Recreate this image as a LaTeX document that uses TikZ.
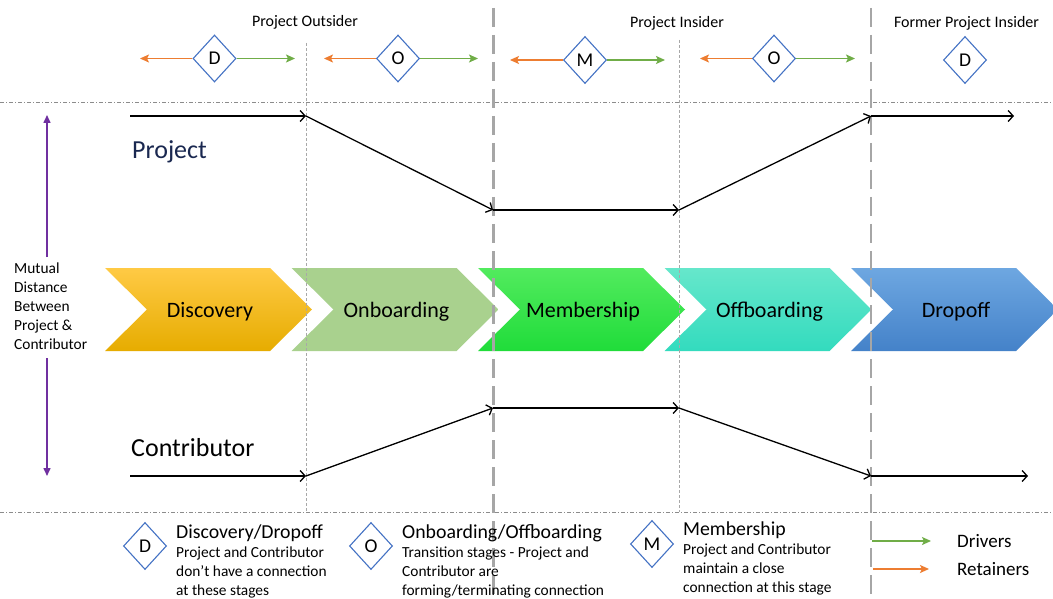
\documentclass[tikz,border=0pt]{standalone}
\usepackage{fontspec}
\setmainfont{Carlito}
\usetikzlibrary{arrows.meta,shapes.geometric}
\definecolor{diablue}{HTML}{4472C4}
\definecolor{retorange}{HTML}{ED7D31}
\definecolor{drvgreen}{HTML}{70AD47}
\definecolor{mpurple}{HTML}{7030A0}
\definecolor{thickgray}{HTML}{A6A6A6}
\definecolor{thingray}{HTML}{A8A8A8}
\definecolor{dashgray}{HTML}{8C8C8C}
\definecolor{projnavy}{HTML}{1A2850}
\definecolor{discT}{HTML}{FFCA45}
\definecolor{discB}{HTML}{E6AC00}
\definecolor{onbC}{HTML}{A9D18E}
\definecolor{memT}{HTML}{52EB5E}
\definecolor{memB}{HTML}{20DC3A}
\definecolor{offT}{HTML}{66E7CB}
\definecolor{offB}{HTML}{33DBBE}
\definecolor{droT}{HTML}{6EA7E1}
\definecolor{droB}{HTML}{4482C9}
\newcommand{\mychev}[6]{%
  \shade[top color=#2,bottom color=#3] (#1,268) -- ++(165,0) -- ++(42,41.5) -- ++(-42,41.5) -- ++(-165,0) -- ++(42,-41.5) -- cycle;
  \node[stagetxt,anchor=base] (#5) at (#1+105,317) {#4};
  \coordinate (#6) at (#1,268);}
\begin{document}
\begin{tikzpicture}[x=1pt,y=-1pt,
  dia/.style={diamond,draw=diablue,fill=white,line width=1.1pt,minimum width=43pt,minimum height=47pt,inner sep=0pt,font=\fontsize{19.5}{19.5}\selectfont},
  drv/.style={draw=drvgreen,line width=1.5pt,-{Stealth[length=9pt,width=8pt,inset=2pt]}},
  ret/.style={draw=retorange,line width=1.5pt,-{Stealth[length=9pt,width=8pt,inset=2pt]}},
  flow/.style={draw=black,line width=1.3pt,-{Straight Barb[length=5pt,width=11pt,line width=1.3pt]}},
  purp/.style={draw=mpurple,line width=1.5pt,-{Triangle[length=8pt,width=7pt]}},
  stagetxt/.style={font=\fontsize{22}{22}\selectfont,inner sep=0pt},
  toplbl/.style={font=\fontsize{16}{16}\selectfont,inner sep=0pt,anchor=base},
  legtitle/.style={font=\fontsize{19.8}{19.8}\selectfont,inner sep=0pt,anchor=base west},
  legsub/.style={font=\fontsize{15.4}{19}\selectfont,inner sep=0pt,anchor=north west,align=left},
  hline/.style={draw=dashgray,line width=0.7pt,dash pattern=on 4pt off 2pt on 1pt off 2pt},
  thinv/.style={draw=thingray,line width=0.9pt,dash pattern=on 3pt off 2pt},
  thickv/.style={draw=thickgray,line width=2.6pt,dash pattern=on 19pt off 8pt}]
\useasboundingbox (0,0) rectangle (1053,599);
\fill[white] (0,0) rectangle (1053,599);

% chevrons
\mychev{105}{discT}{discB}{Discovery}{sDisc}{cDisc}
\mychev{291.5}{onbC}{onbC}{Onboarding}{sOnb}{cOnb}
\mychev{478}{memT}{memB}{Membership}{sMem}{cMem}
\mychev{664.5}{offT}{offB}{Offboarding}{sOff}{cOff}
\mychev{851}{droT}{droB}{Dropoff}{sDro}{cDro}

% horizontal separators
\draw[hline] (0,102) -- (1053,102);
\draw[hline] (0,512) -- (1053,512);

% vertical lines
\draw[thinv] (306.5,43) -- (306.5,512);
\draw[thinv] (679,40) -- (679,512);
\draw[thickv] (493.5,8) -- (493.5,599);
\draw[thickv] (871,8) -- (871,599);

% top labels
\node[toplbl] (lOut) at (305,27) {Project Outsider};
\node[toplbl] (lIns) at (677,27.5) {Project Insider};
\node[toplbl] (lFor) at (966.5,27.5) {Former Project Insider};

% top diamonds with arrows
\node[dia] (d1) at (214.5,58.5) {D};
\node[dia] (o1) at (398,58.5) {O};
\node[dia] (m1) at (585,60) {M};
\node[dia] (o2) at (774,58.5) {O};
\node[dia] (d2) at (965,60) {D};
\coordinate (d1l) at (140,58.5); \coordinate (d1r) at (295,58.5);
\coordinate (o1l) at (324,58.5); \coordinate (o1r) at (478,58.5);
\coordinate (m1l) at (510,60); \coordinate (m1r) at (665,60);
\coordinate (o2l) at (700,58.5); \coordinate (o2r) at (855,58.5);
\draw[ret] (d1.west) -- (d1l); \draw[drv] (d1.east) -- (d1r);
\draw[ret] (o1.west) -- (o1l); \draw[drv] (o1.east) -- (o1r);
\draw[ret] (m1.west) -- (m1l); \draw[drv] (m1.east) -- (m1r);
\draw[ret] (o2.west) -- (o2l); \draw[drv] (o2.east) -- (o2r);

% project flow
\coordinate (p0) at (130,116); \coordinate (p1) at (306,116);
\coordinate (p2) at (493,210); \coordinate (p3) at (679,210);
\coordinate (p4) at (871,116); \coordinate (p5) at (1014,116);
\draw[flow] (p0) -- (p1); \draw[flow] (p1) -- (p2); \draw[flow] (p2) -- (p3);
\draw[flow] (p3) -- (p4); \draw[flow] (p4) -- (p5);
\node[font=\fontsize{26}{26}\selectfont,text=projnavy,inner sep=0pt,anchor=base west] (lProj) at (132,159) {Project};

% contributor flow
\coordinate (c0) at (130,476); \coordinate (c1) at (306,476);
\coordinate (c2) at (493,408); \coordinate (c3) at (679,408);
\coordinate (c4) at (871,476); \coordinate (c5) at (1028,476);
\draw[flow] (c0) -- (c1); \draw[flow] (c1) -- (c2); \draw[flow] (c2) -- (c3);
\draw[flow] (c3) -- (c4); \draw[flow] (c4) -- (c5);
\node[font=\fontsize{26}{26}\selectfont,inner sep=0pt,anchor=base west] (lCon) at (131,456) {Contributor};

% mutual distance
\node[font=\fontsize{15.4}{19}\selectfont,inner sep=0pt,anchor=north west,align=left] (mtext) at (14,263) {Mutual\\Distance\\Between\\Project \&\\Contributor};
\coordinate (mtop) at (47,115); \coordinate (mup) at (47,257);
\coordinate (mdn) at (47,358); \coordinate (mbot) at (47,476);
\draw[purp] (mup) -- (mtop);
\draw[purp] (mdn) -- (mbot);

% legend
\node[dia] (kD) at (145,546) {D};
\node[legtitle] (kDt) at (176,538) {Discovery/Dropoff};
\node[legsub] (kDs) at (176,547) {Project and Contributor\\don’t have a connection\\at these stages};
\node[dia] (kO) at (371,546) {O};
\node[legtitle] (kOt) at (402,538) {Onboarding/Offboarding};
\node[legsub] (kOs) at (402,547) {Transition stages - Project and\\Contributor are\\forming/terminating connection};
\node[dia] (kM) at (652,544) {M};
\node[legtitle] (kMt) at (683,535) {Membership};
\node[legsub] (kMs) at (683,544) {Project and Contributor\\maintain a close\\connection at this stage};
\coordinate (gA) at (872,541); \coordinate (gB) at (931,541);
\coordinate (oA) at (873,569); \coordinate (oB) at (929,569);
\draw[drv] (gA) -- (gB);
\draw[ret] (oA) -- (oB);
\node[font=\fontsize{19}{19}\selectfont,inner sep=0pt,anchor=west] (kDrv) at (957,541) {Drivers};
\node[font=\fontsize{19}{19}\selectfont,inner sep=0pt,anchor=west] (kRet) at (957,569) {Retainers};
\end{tikzpicture}
\end{document}
